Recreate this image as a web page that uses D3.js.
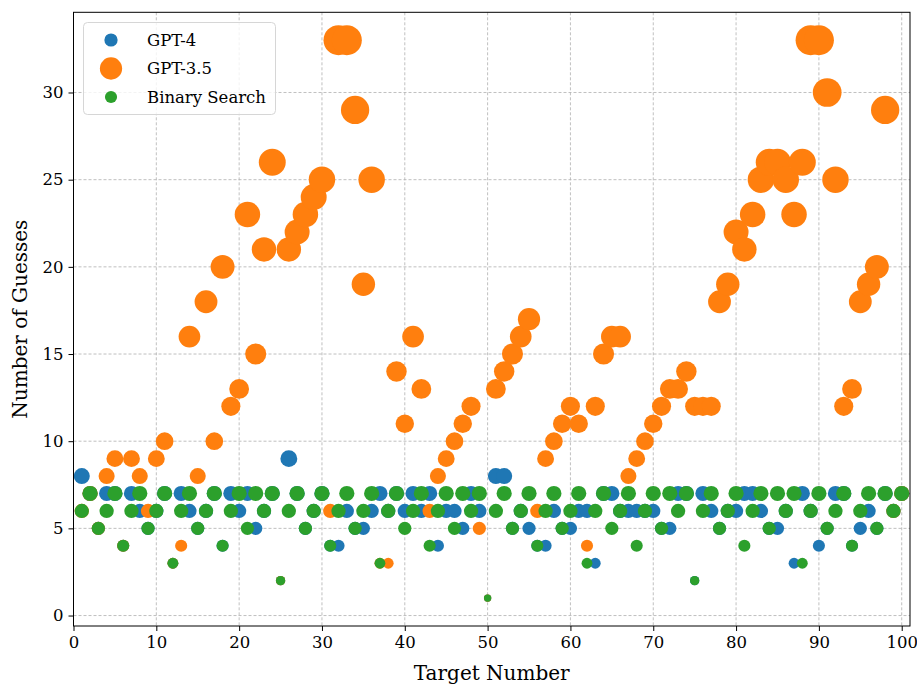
<!DOCTYPE html>
<html>
<head>
<meta charset="utf-8">
<script src="https://cdn.jsdelivr.net/npm/d3@7"></script>
<style>
  body { margin: 0; background: #fff; }
  svg text { font-family: "DejaVu Serif", "Liberation Serif", serif; fill: #000; }
</style>
</head>
<body>
<svg id="chart"></svg>
<script>
// targets 1..100
const targets = d3.range(1, 101);

// number of guesses, one per target
const gpt4 = [
  8, 7, 5, 7, 7, 4, 7, 6, 5, 6,
  7, 3, 7, 6, 5, 6, 7, 4, 7, 6,
  7, 5, 6, 7, 2, 9, 7, 5, 6, 7,
  4, 4, 6, 5, 5, 6, 7, 6, 7, 6,
  7, 6, 7, 4, 6, 6, 5, 7, 6, 1,
  8, 8, 5, 6, 5, 4, 4, 6, 5, 5,
  6, 6, 3, 7, 7, 6, 6, 6, 6, 6,
  5, 5, 7, 7, 2, 7, 6, 5, 6, 6,
  7, 7, 6, 5, 5, 6, 3, 7, 6, 4,
  5, 7, 7, 4, 5, 6, 5, 7, 6, 7
];

const gpt35 = [
  6, 7, 5, 8, 9, 4, 9, 8, 6, 9,
  10, 3, 4, 16, 8, 18, 10, 20, 12, 13,
  23, 15, 21, 26, 2, 21, 22, 23, 24, 25,
  6, 33, 33, 29, 19, 25, 3, 3, 14, 11,
  16, 13, 6, 8, 9, 10, 11, 12, 5, 1,
  13, 14, 15, 16, 17, 6, 9, 10, 11, 12,
  11, 4, 12, 15, 16, 16, 8, 9, 10, 11,
  12, 13, 13, 14, 12, 12, 12, 18, 19, 22,
  21, 23, 25, 26, 26, 25, 23, 26, 33, 33,
  30, 25, 12, 13, 18, 19, 20, 29, 6, 7
];

const binarySearch = [
  6, 7, 5, 6, 7, 4, 6, 7, 5, 6,
  7, 3, 6, 7, 5, 6, 7, 4, 6, 7,
  5, 7, 6, 7, 2, 6, 7, 5, 6, 7,
  4, 6, 7, 5, 6, 7, 3, 6, 7, 5,
  6, 7, 4, 6, 7, 5, 7, 6, 7, 1,
  6, 7, 5, 6, 7, 4, 6, 7, 5, 6,
  7, 3, 6, 7, 5, 6, 7, 4, 6, 7,
  5, 7, 6, 7, 2, 6, 7, 5, 6, 7,
  4, 6, 7, 5, 7, 6, 7, 3, 6, 7,
  5, 6, 7, 4, 6, 7, 5, 7, 6, 7
];

const seriesNames = ["GPT-4", "GPT-3.5", "Binary Search"];
const seriesColors = ["#1f77b4", "#ff7f0e", "#2ca02c"];
const seriesValues = [gpt4, gpt35, binarySearch];

const xTicks = d3.range(0, 101, 10);
const yTicks = d3.range(0, 31, 5);

const width = 917, height = 685;
const margin = {top: 12.3, right: 7, bottom: 59, left: 73.5};

const svg = d3.select("#chart")
    .attr("width", width)
    .attr("height", height);

const x = d3.scaleLinear()
    .domain([0, 101])
    .range([margin.left, width - margin.right]);

const y = d3.scaleLinear()
    .domain([-0.6, 34.6])
    .range([height - margin.bottom, margin.top]);

// marker size grows with the value (matplotlib s = value)
const rScale = d3.scaleSqrt().domain([0, 1]).range([0, 2.39]);
const radius = v => rScale(v) + 1.28;

// grid
const grid = svg.append("g").attr("class", "grid");
grid.selectAll(".gx")
  .data(xTicks)
  .join("line")
    .attr("x1", d => x(d)).attr("x2", d => x(d))
    .attr("y1", margin.top).attr("y2", height - margin.bottom);
grid.selectAll(".gy")
  .data(yTicks)
  .join("line")
    .attr("x1", margin.left).attr("x2", width - margin.right)
    .attr("y1", d => y(d)).attr("y2", d => y(d));
grid.selectAll("line")
    .attr("stroke", "#b0b0b0")
    .attr("stroke-width", 0.8)
    .attr("stroke-dasharray", "3,2");

// points, drawn in series order
seriesValues.forEach((vals, i) => {
  svg.append("g")
    .selectAll("circle")
    .data(targets.map((t, j) => ({t: t, v: vals[j]})))
    .join("circle")
      .attr("cx", d => x(d.t))
      .attr("cy", d => y(d.v))
      .attr("r", d => radius(d.v))
      .attr("fill", seriesColors[i]);
});

// axes
const xAxis = svg.append("g")
    .attr("transform", `translate(0,${height - margin.bottom})`)
    .call(d3.axisBottom(x).tickValues(xTicks).tickSize(5).tickPadding(5));
const yAxis = svg.append("g")
    .attr("transform", `translate(${margin.left},0)`)
    .call(d3.axisLeft(y).tickValues(yTicks).tickSize(5).tickPadding(5));

[xAxis, yAxis].forEach(a => {
  a.select(".domain").remove();
  a.selectAll("text").attr("font-size", 16.5).attr("fill", "#000");
  a.selectAll("line").attr("stroke", "#000");
});

// frame
svg.append("rect")
    .attr("x", margin.left)
    .attr("y", margin.top)
    .attr("width", width - margin.right - margin.left)
    .attr("height", height - margin.bottom - margin.top)
    .attr("fill", "none")
    .attr("stroke", "#000")
    .attr("stroke-width", 1);

// axis labels
svg.append("text")
    .attr("x", (margin.left + width - margin.right) / 2)
    .attr("y", 680)
    .attr("text-anchor", "middle")
    .attr("font-size", 20)
    .text("Target Number");

svg.append("text")
    .attr("transform", `translate(27,${(margin.top + height - margin.bottom) / 2}) rotate(-90)`)
    .attr("text-anchor", "middle")
    .attr("font-size", 20)
    .text("Number of Guesses");

// legend
const legend = svg.append("g");
legend.append("rect")
    .attr("x", 83.5).attr("y", 22.5)
    .attr("width", 192).attr("height", 92)
    .attr("rx", 4)
    .attr("fill", "#fff").attr("fill-opacity", 0.8)
    .attr("stroke", "#d6d6d6");

seriesNames.forEach((name, i) => {
  const ly = 40 + i * 28.5;
  const vals = seriesValues[i];
  legend.append("circle")
      .attr("cx", 111)
      .attr("cy", ly)
      .attr("r", radius((d3.max(vals) + d3.min(vals)) / 2))
      .attr("fill", seriesColors[i]);
  legend.append("text")
      .attr("x", 147)
      .attr("y", ly)
      .attr("dy", "0.35em")
      .attr("font-size", 16.5)
      .text(name);
});
</script>
</body>
</html>
